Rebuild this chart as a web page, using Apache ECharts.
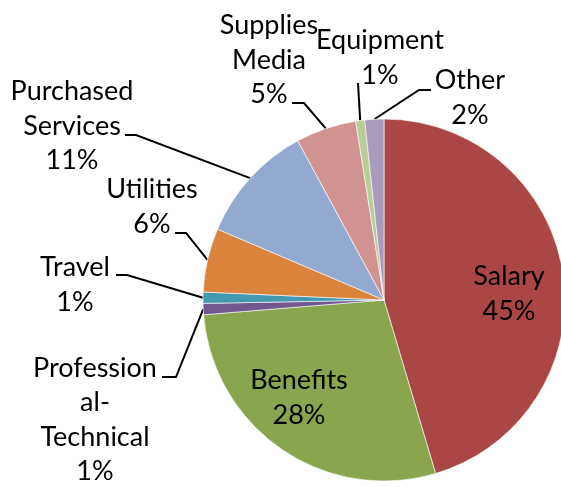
<!DOCTYPE html>
<html>
<head>
<meta charset="utf-8">
<script src="https://cdn.jsdelivr.net/npm/echarts@6/dist/echarts.min.js"></script>
<style>
  html, body { margin: 0; padding: 0; background: #fff; }
  #chart { width: 561px; height: 487px; }
</style>
</head>
<body>
<div id="chart"></div>
<script>
// budget shares, clockwise from 12 o'clock
var categories = ["Salary", "Benefits", "Profession\nal-\nTechnical", "Travel", "Utilities",
  "Purchased\nServices", "Supplies\nMedia", "Equipment", "Other"];
var shares = [45.4, 28.3, 1.0, 1.0, 5.7, 10.7, 5.4, 0.8, 1.7];
var colors = ["#AA4643", "#89A54E", "#71588F", "#4198AF", "#DB843D",
  "#93A9CF", "#D19392", "#B9CD96", "#A99BBD"];

// where each label block is centred (Excel-style placement)
var labelPos = [
  [509, 294], [299, 398], [95, 420], [75, 285], [152, 207],
  [72, 126], [269, 60], [380, 58], [470, 98]
];
// leader line elbow and end, next to each outside label
var leaderBends = [
  null, null,
  [[176, 377], [162, 377]],
  [[127, 275], [116, 275]],
  [[186, 233], [175, 233]],
  [[136, 135], [125, 135]],
  [[304, 103], [292, 103]],
  [[358, 83]],
  [[419, 90], [431, 90]]
];

var chart = echarts.init(document.getElementById("chart"));

var data = categories.map(function (name, i) {
  var item = {
    name: name,
    value: shares[i],
    itemStyle: { color: colors[i] }
  };
  if (i < 2) {
    item.label = { position: "inside" };
    item.labelLine = { show: false };
  }
  return item;
});

var option = {
  animation: false,
  series: [
    {
      type: "pie",
      center: [384, 300],
      radius: 181,
      startAngle: 90,
      clockwise: true,
      avoidLabelOverlap: false,
      data: data,
      itemStyle: { borderColor: "#fff", borderWidth: 0.6 },
      label: {
        show: true,
        position: "outside",
        color: "#000",
        fontFamily: "Lato",
        fontSize: 27,
        lineHeight: 34.5,
        align: "center",
        formatter: function (p) {
          return p.name + "\n" + Math.round(p.percent) + "%";
        }
      },
      labelLine: {
        show: true,
        length: 10,
        length2: 10,
        lineStyle: { color: "#000", width: 2 }
      },
      labelLayout: function (p) {
        var i = p.dataIndex;
        var pos = labelPos[i];
        var out = {
          x: pos[0],
          y: pos[1],
          align: "center",
          verticalAlign: "middle",
          hideOverlap: false,
          moveOverlap: null
        };
        if (leaderBends[i] && p.labelLinePoints) {
          out.labelLinePoints = [p.labelLinePoints[0]].concat(leaderBends[i]);
        }
        return out;
      }
    }
  ]
};

chart.setOption(option);
window.addEventListener("resize", function () {
  chart.resize();
});
</script>
</body>
</html>
